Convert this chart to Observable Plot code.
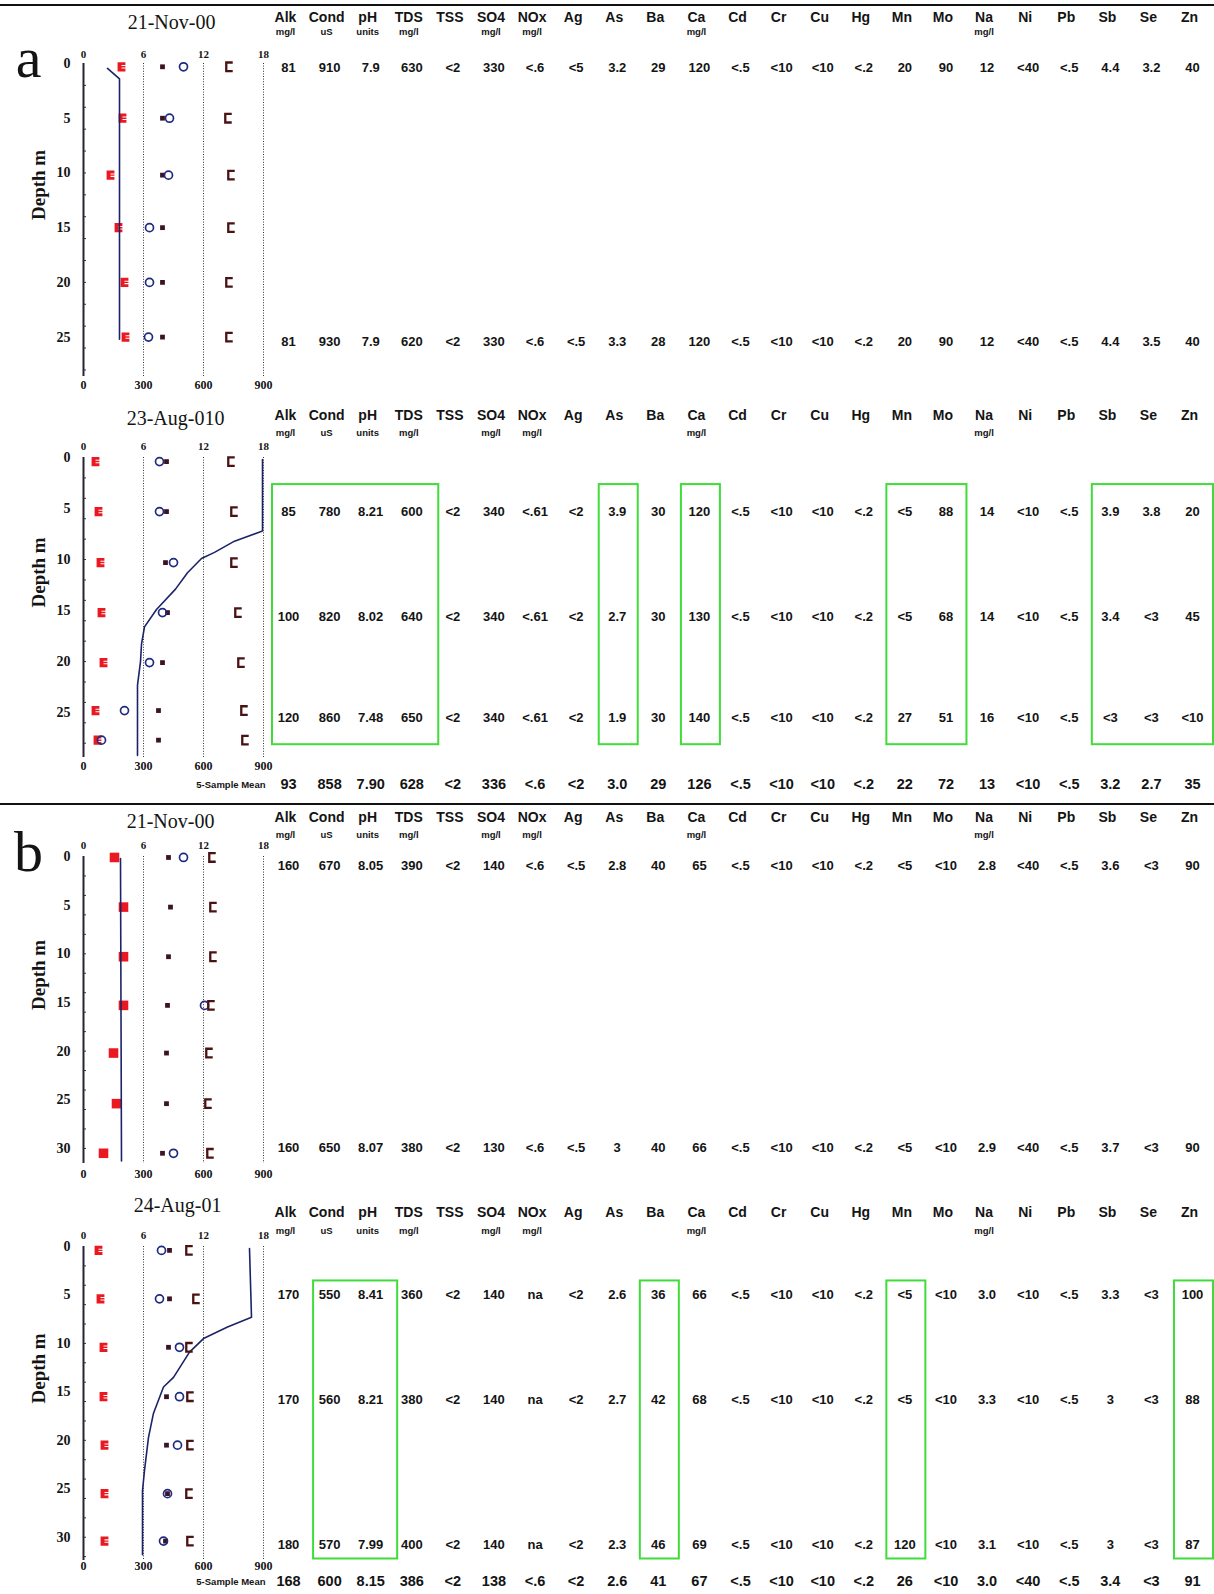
<!DOCTYPE html>
<html><head><meta charset="utf-8">
<script src="https://cdn.jsdelivr.net/npm/d3@7"></script>
<script src="https://cdn.jsdelivr.net/npm/@observablehq/plot@0.6"></script>
<style>
body{margin:0;background:#fff;}
#page{position:relative;width:1214px;height:1594px;background:#fff;overflow:hidden;}
.panel{position:absolute;left:0;width:1214px;}
.panel svg{position:absolute;left:0;top:0;}
.hr{position:absolute;left:0;width:1214px;height:0;border-top:2px solid #111;}
</style></head><body><div id="page"></div>
<script>
// ---------- table columns ----------
const columns = ["Alk","Cond","pH","TDS","TSS","SO4","NOx","Ag","As","Ba","Ca","Cd","Cr","Cu","Hg","Mn","Mo","Na","Ni","Pb","Sb","Se","Zn"];
const units   = ["mg/l","uS","units","mg/l","","mg/l","mg/l","","","","mg/l","","","","","","","mg/l","","","","",""];

// ---------- panel a : 21-Nov-00 ----------
const a1SampleDepth = [0.4, 25.4];
const a1Row1 = ["81","910","7.9","630","<2","330","<.6","<5","3.2","29","120","<.5","<10","<10","<.2","20","90","12","<40","<.5","4.4","3.2","40"];
const a1Row2 = ["81","930","7.9","620","<2","330","<.6","<.5","3.3","28","120","<.5","<10","<10","<.2","20","90","12","<40","<.5","4.4","3.5","40"];
const a1ProfileDepth = [0.3, 5, 10.2, 15, 20, 25];
const a1Red     = [3.8, 3.9, 2.7, 3.5, 4.1, 4.2];
const a1Dark    = [7.9, 7.9, 7.9, 7.9, 7.9, 7.9];
const a1Circle  = [10.0, 8.6, 8.5, 6.6, 6.6, 6.5];
const a1Bracket = [14.6, 14.5, 14.8, 14.8, 14.6, 14.6];
const a1LineX     = [2.4, 3.6, 3.6];
const a1LineDepth = [0.45, 1.4, 25.2];

// ---------- panel a : 23-Aug-010 ----------
const a2SampleDepth = [5.3, 15.6, 25.5];
const a2Row1 = ["85","780","8.21","600","<2","340","<.61","<2","3.9","30","120","<.5","<10","<10","<.2","<5","88","14","<10","<.5","3.9","3.8","20"];
const a2Row2 = ["100","820","8.02","640","<2","340","<.61","<2","2.7","30","130","<.5","<10","<10","<.2","<5","68","14","<10","<.5","3.4","<3","45"];
const a2Row3 = ["120","860","7.48","650","<2","340","<.61","<2","1.9","30","140","<.5","<10","<10","<.2","27","51","16","<10","<.5","<3","<3","<10"];
const a2Mean = ["93","858","7.90","628","<2","336","<.6","<2","3.0","29","126","<.5","<10","<10","<.2","22","72","13","<10","<.5","3.2","2.7","35"];
const a2Boxes = [["Alk","TDS"],["As","As"],["Ca","Ca"],["Mn","Mo"],["Sb","Zn"]];
const a2ProfileDepth = [0.4, 5.3, 10.3, 15.2, 20.1, 24.8, 27.7];
const a2Red     = [1.2, 1.5, 1.7, 1.8, 2.0, 1.2, 1.4];
const a2Dark    = [8.3, 8.3, 8.2, 8.4, 7.9, 7.5, 7.5];
const a2Circle  = [7.6, 7.6, 9.0, 7.9, 6.6, 4.1, 1.8];
const a2Bracket = [14.8, 15.1, 15.1, 15.5, 15.8, 16.1, 16.2];
const a2LineX     = [17.9, 17.9, 15.1, 13.1, 11.8, 10.4, 9.2, 7.3, 6.1, 5.8, 5.7, 5.4, 5.4, 5.4];
const a2LineDepth = [0.2, 7.2, 8.2, 9.3, 9.9, 11.3, 12.9, 14.9, 16.6, 18.3, 20, 22.3, 25, 29.2];

// ---------- panel b : 21-Nov-00 ----------
const b1SampleDepth = [1.0, 29.9];
const b1Row1 = ["160","670","8.05","390","<2","140","<.6","<.5","2.8","40","65","<.5","<10","<10","<.2","<5","<10","2.8","<40","<.5","3.6","<3","90"];
const b1Row2 = ["160","650","8.07","380","<2","130","<.6","<.5","3","40","66","<.5","<10","<10","<.2","<5","<10","2.9","<40","<.5","3.7","<3","90"];
const b1ProfileDepth = [0.1, 5.2, 10.3, 15.3, 20.2, 25.4, 30.5];
const b1Red     = [3.1, 4.0, 4.0, 4.0, 3.0, 3.3, 2.0];
const b1Dark    = [8.5, 8.7, 8.5, 8.4, 8.3, 8.3, 7.9];
const b1Circle  = [10.0, null, null, 12.1, null, null, 9.0];
const b1Bracket = [12.9, 13.0, 13.0, 12.8, 12.6, 12.5, 12.7];
const b1LineX     = [3.7, 3.8];
const b1LineDepth = [0.2, 31.3];

// ---------- panel b : 24-Aug-01 ----------
const b2SampleDepth = [5.0, 15.8, 30.8];
const b2Row1 = ["170","550","8.41","360","<2","140","na","<2","2.6","36","66","<.5","<10","<10","<.2","<5","<10","3.0","<10","<.5","3.3","<3","100"];
const b2Row2 = ["170","560","8.21","380","<2","140","na","<2","2.7","42","68","<.5","<10","<10","<.2","<5","<10","3.3","<10","<.5","3","<3","88"];
const b2Row3 = ["180","570","7.99","400","<2","140","na","<2","2.3","46","69","<.5","<10","<10","<.2","120","<10","3.1","<10","<.5","3","<3","87"];
const b2Mean = ["168","600","8.15","386","<2","138","<.6","<2","2.6","41","67","<.5","<10","<10","<.2","26","<10","3.0","<40","<.5","3.4","<3","91"];
const b2Boxes = [["Cond","pH"],["Ba","Ba"],["Mn","Mn"],["Zn","Zn"]];
const b2ProfileDepth = [0.4, 5.4, 10.4, 15.5, 20.5, 25.5, 30.4];
const b2Red     = [1.5, 1.7, 2.0, 2.0, 2.1, 2.1, 2.1];
const b2Dark    = [8.6, 8.6, 8.5, 8.3, 8.3, 8.4, 8.2];
const b2Circle  = [7.8, 7.6, 9.6, 9.6, 9.4, 8.4, 8.0];
const b2Bracket = [10.6, 11.3, 10.6, 10.7, 10.7, 10.6, 10.7];
const b2LineX     = [16.6, 16.8, 14.4, 12.0, 10.6, 9.0, 8.0, 7.0, 6.5, 6.1, 5.9, 5.9];
const b2LineDepth = [0.2, 7.3, 8.3, 9.5, 10.9, 13.5, 14.5, 17.2, 19.7, 23.1, 25.2, 31.8];

// ---------- styling ----------
const serif = "'Liberation Serif','Times New Roman',serif";
const sans  = "'Liberation Sans',Arial,sans-serif";
const INK = "#141414";

const symE = {draw(ctx, size){
  const r = Math.sqrt(size/Math.PI), w = r*0.85, h = r;
  ctx.moveTo(-w,-h); ctx.lineTo(w,-h); ctx.lineTo(w,-0.38*h); ctx.lineTo(0,-0.38*h); ctx.lineTo(0,-0.16*h);
  ctx.lineTo(w,-0.16*h); ctx.lineTo(w,0.16*h); ctx.lineTo(0,0.16*h); ctx.lineTo(0,0.38*h); ctx.lineTo(w,0.38*h);
  ctx.lineTo(w,h); ctx.lineTo(-w,h); ctx.closePath();
}};
const symBracket = {draw(ctx, size){
  const r = Math.sqrt(size/Math.PI), w = r*0.75;
  ctx.moveTo(w,-r); ctx.lineTo(-w,-r); ctx.lineTo(-w,r); ctx.lineTo(w,r);
}};

const panels = [
  {letter:"a", title:"21-Nov-00", top:0, height:395, mt:63, mb:19, dmax:28.6, ticks:[0,5,10,15,20,25],
   headDy:-46, unitDy:-32, titleDy:-41, titleDx:-2, letterDy:13, topPad:6, botPad:4,
   rows:[a1Row1,a1Row2], sampleDepth:a1SampleDepth, mean:null, boxes:[], boxPad:0,
   depth:a1ProfileDepth, red:a1Red, redSym:symE, redR:4.6, dark:a1Dark, circle:a1Circle, bracket:a1Bracket, lineX:a1LineX, lineD:a1LineDepth},
  {letter:null, title:"23-Aug-010", top:395, height:405, mt:62, mb:43, dmax:29.4, ticks:[0,5,10,15,20,25],
   headDy:-42, unitDy:-25, titleDy:-39, titleDx:2, topPad:8, botPad:4,
   rows:[a2Row1,a2Row2,a2Row3], sampleDepth:a2SampleDepth, mean:a2Mean, meanDy:27, boxes:a2Boxes, boxPad:27,
   depth:a2ProfileDepth, red:a2Red, redSym:symE, redR:4.6, dark:a2Dark, circle:a2Circle, bracket:a2Bracket, lineX:a2LineX, lineD:a2LineDepth},
  {letter:"b", title:"21-Nov-00", top:805, height:375, mt:51, mb:17, dmax:31.55, ticks:[0,5,10,15,20,25,30],
   headDy:-39, unitDy:-22, titleDy:-35, titleDx:-3, letterDy:14, topPad:8, botPad:6,
   rows:[b1Row1,b1Row2], sampleDepth:b1SampleDepth, mean:null, boxes:[], boxPad:0,
   depth:b1ProfileDepth, red:b1Red, redSym:"square", redR:5.4, dark:b1Dark, circle:b1Circle, bracket:b1Bracket, lineX:b1LineX, lineD:b1LineDepth},
  {letter:null, title:"24-Aug-01", top:1180, height:414, mt:66, mb:34, dmax:32.4, ticks:[0,5,10,15,20,25,30],
   headDy:-34, unitDy:-16, titleDy:-41, titleDx:4, topPad:8, botPad:1,
   rows:[b2Row1,b2Row2,b2Row3], sampleDepth:b2SampleDepth, mean:b2Mean, meanDy:21, boxes:b2Boxes, boxPad:14,
   depth:b2ProfileDepth, red:b2Red, redSym:symE, redR:4.6, dark:b2Dark, circle:b2Circle, bracket:b2Bracket, lineX:b2LineX, lineD:b2LineDepth}
];

const page = document.getElementById("page");
for (const y of [4, 803]) { const d = document.createElement("div"); d.className = "hr"; d.style.top = y + "px"; page.appendChild(d); }

for (const p of panels) {
  const div = document.createElement("div");
  div.className = "panel"; div.style.top = p.top + "px"; div.style.height = p.height + "px";
  const yOpt = {domain:[0, p.dmax], reverse:true, axis:null};

  // ---- table ----
  const cells = p.rows.flatMap((vals, r) => vals.map((v, i) => ({i, depth:p.sampleDepth[r], v})));
  const first = p.sampleDepth[0], last = p.sampleDepth[p.sampleDepth.length-1];
  const boxes = p.boxes.map(([a,b]) => ({x1:columns.indexOf(a), x2:columns.indexOf(b), y1:first, y2:last}));
  const wide = boxes.filter(b => b.x1 <= 1 && b.x2 > b.x1);
  const rest = boxes.filter(b => !(b.x1 <= 1 && b.x2 > b.x1));
  const boxStyle = {x1:"x1", x2:"x2", y1:"y1", y2:"y2", fill:"none", stroke:"#3fdc3a", strokeWidth:2, insetTop:-p.boxPad, insetBottom:-p.boxPad};
  const tmarks = [
    Plot.rect(rest, {...boxStyle, insetLeft:-16, insetRight:-23}),
    Plot.rect(wide, {...boxStyle, insetLeft:-14, insetRight:-29}),
    Plot.text(columns, {x:(d,i)=>i, frameAnchor:"top", lineAnchor:"middle", dy:p.headDy, dx:-1, fontSize:14, fontWeight:"bold", fill:INK}),
    Plot.text(units, {x:(d,i)=>i, frameAnchor:"top", lineAnchor:"middle", dy:p.unitDy, dx:-1, fontSize:9.5, fontWeight:"bold", fill:INK}),
    Plot.text(cells, {x:"i", y:"depth", text:"v", dx:2, fontSize:13, fontWeight:"bold", fill:INK})
  ];
  if (p.mean) {
    tmarks.push(Plot.text(p.mean, {x:(d,i)=>i, frameAnchor:"bottom", lineAnchor:"middle", dy:p.meanDy, dx:2, fontSize:14.5, fontWeight:"bold", fill:INK}));
    tmarks.push(Plot.text(["5-Sample Mean"], {frameAnchor:"bottom-left", lineAnchor:"middle", dy:p.meanDy, textAnchor:"end", fontSize:9.5, fontWeight:"bold", fill:INK}));
  }
  const table = Plot.plot({
    width:1214, height:p.height, marginLeft:265, marginRight:0, marginTop:p.mt, marginBottom:p.mb,
    x:{domain:[0,22], range:[286,1190], axis:null}, y:yOpt,
    style:{background:"transparent", fontFamily:sans, overflow:"visible"},
    marks:tmarks
  });

  // ---- profile ----
  const pts = p.depth.map((d, k) => ({d, red:p.red[k], dark:p.dark[k], circle:p.circle[k], bracket:p.bracket[k]}));
  const line = p.lineX.map((x, k) => ({x, d:p.lineD[k]}));
  const pmarks = [
    Plot.ruleX([6,12,18], {stroke:"#333", strokeWidth:1, strokeDasharray:"1,1.6"}),
    Plot.axisY({ticks:d3.range(2, p.dmax, 2), tickSize:-3, tickFormat:()=>"", label:null, stroke:"#333"}),
    Plot.axisY({ticks:p.ticks, tickSize:0, tickPadding:13, fontSize:14, fontWeight:"bold", label:null, fill:INK}),
    Plot.axisX({anchor:"top", ticks:[0,6,12,18], tickSize:0, tickPadding:p.topPad, fontSize:11, fontWeight:"bold", label:null, fill:INK}),
    Plot.axisX({anchor:"bottom", ticks:[0,6,12,18], tickFormat:d=>d*50, tickSize:0, tickPadding:p.botPad, fontSize:12, fontWeight:"bold", label:null, fill:INK}),
    Plot.ruleX([0], {stroke:"#2b2236", strokeWidth:2}),
    Plot.dot(pts, {x:"red", y:"d", symbol:p.redSym, r:p.redR, fill:"#ea1820", stroke:"none"}),
    Plot.line(line, {x:"x", y:"d", stroke:"#1b2468", strokeWidth:1.6}),
    Plot.dot(pts, {x:"dark", y:"d", symbol:"square", r:2.7, fill:"#3a1426", stroke:"none"}),
    Plot.dot(pts, {x:"circle", y:"d", symbol:"circle", r:4, fill:"none", stroke:"#1f2a80", strokeWidth:1.7}),
    Plot.dot(pts, {x:"bracket", y:"d", symbol:symBracket, r:4.3, fill:"none", stroke:"#4a1212", strokeWidth:2.3}),
    Plot.text([p.title], {frameAnchor:"top", lineAnchor:"middle", dy:p.titleDy, dx:p.titleDx, fontSize:20, fill:INK}),
    Plot.text(["Depth m"], {frameAnchor:"left", dx:-45, rotate:-90, fontSize:19, fontWeight:"bold", fill:INK})
  ];
  if (p.letter) pmarks.push(Plot.text([p.letter], {frameAnchor:"top-left", dx:-55, dy:p.letterDy, textAnchor:"middle", lineAnchor:"bottom", fontSize:58, fill:INK}));
  const prof = Plot.plot({
    width:275, height:p.height, marginLeft:83, marginRight:12, marginTop:p.mt, marginBottom:p.mb,
    x:{domain:[0,18], axis:null}, y:yOpt,
    style:{background:"transparent", fontFamily:serif, overflow:"visible"},
    marks:pmarks
  });
  div.appendChild(table); div.appendChild(prof);
  page.appendChild(div);
}
</script>
</body></html>
